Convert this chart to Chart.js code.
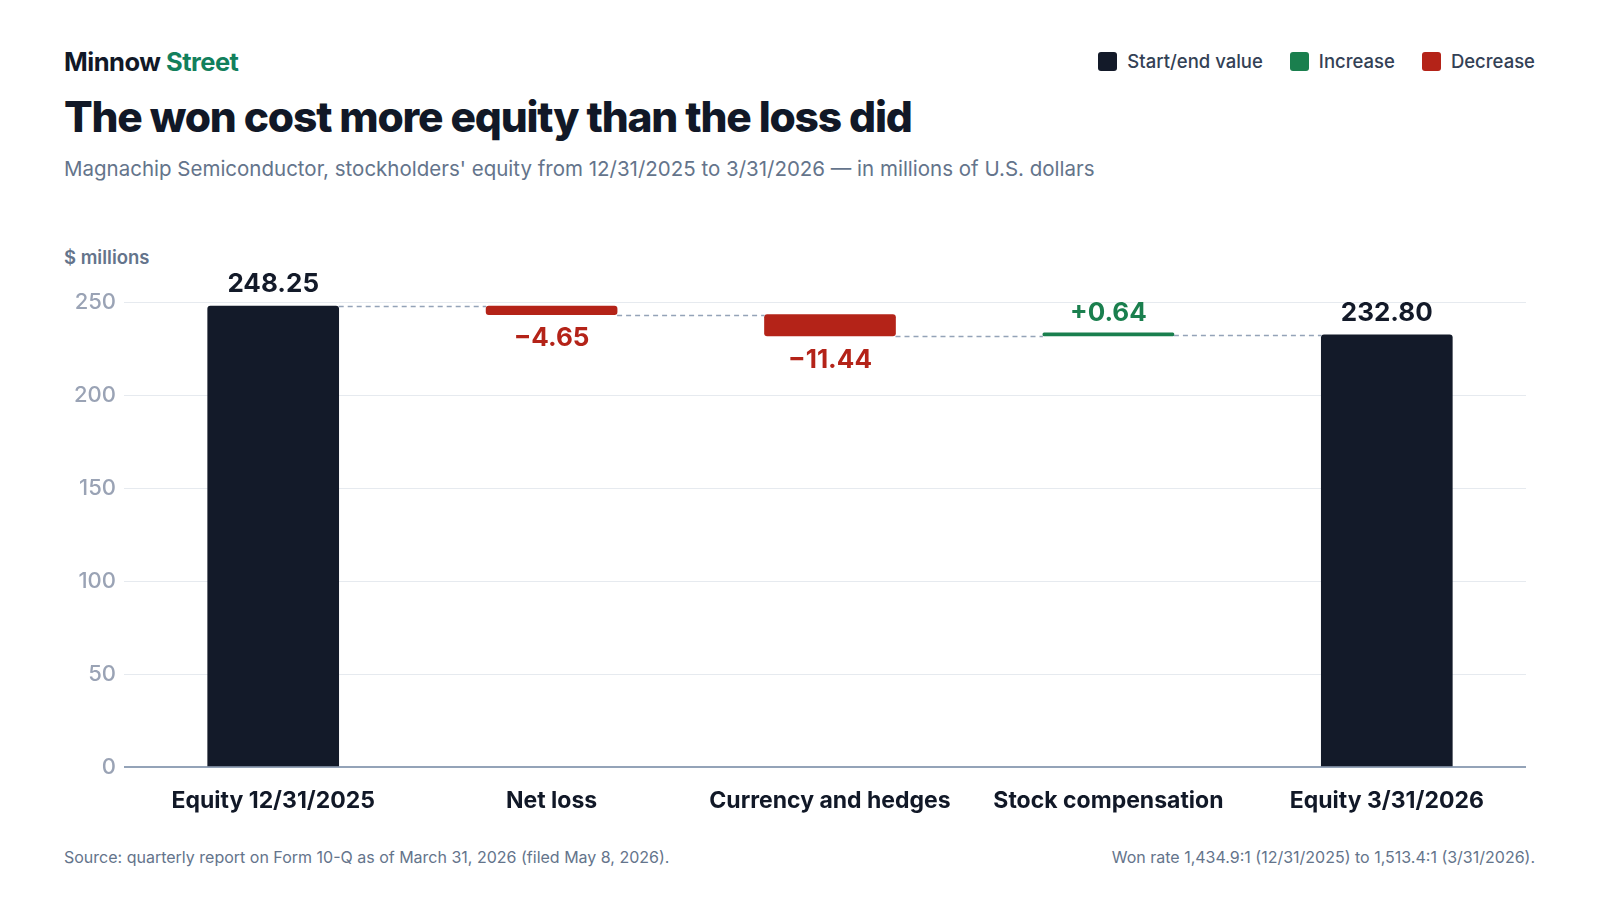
<!DOCTYPE html>
<html>
<head>
<meta charset="utf-8">
<script src="https://cdn.jsdelivr.net/npm/chart.js@4.4.1/dist/chart.umd.min.js"></script>
<style>
  body { margin: 0; background: #fff; font-family: Inter, "Noto Sans", sans-serif; }
  #page { position: relative; width: 1600px; height: 900px; }
  .brand { position: absolute; left: 64px; top: 46px; font-size: 25.5px; font-weight: 700; color: #111827; letter-spacing: -0.5px; }
  .brand span { color: #12805c; }
  h1 { position: absolute; left: 64px; top: 91px; margin: 0; font-size: 42.5px; font-weight: 800; color: #111827; letter-spacing: -1.2px; }
  .sub { position: absolute; left: 64px; top: 156px; font-size: 20.5px; color: #64748b; }
  .legend { position: absolute; right: 65px; top: 50px; display: flex; gap: 27px; font-size: 18.5px; font-weight: 500; color: #334155; }
  .legend div { display: flex; align-items: center; gap: 10px; }
  .legend i { display: inline-block; width: 19px; height: 19px; border-radius: 3px; }
  .unit { position: absolute; left: 64px; top: 246px; font-size: 18.5px; font-weight: 600; color: #64748b; }
  .foot { position: absolute; top: 847px; font-size: 16px; color: #64748b; }
  #wrap { position: absolute; left: 64px; top: 250px; width: 1470px; height: 577px; }
</style>
</head>
<body>
<div id="page">
  <div class="brand">Minnow <span>Street</span></div>
  <div class="legend">
    <div><i style="background:#131a29"></i>Start/end value</div>
    <div><i style="background:#1a7f4e"></i>Increase</div>
    <div><i style="background:#b42318"></i>Decrease</div>
  </div>
  <h1>The won cost more equity than the loss did</h1>
  <div class="sub">Magnachip Semiconductor, stockholders' equity from 12/31/2025 to 3/31/2026 — in millions of U.S. dollars</div>
  <div class="unit">$ millions</div>
  <div id="wrap"><canvas id="chart"></canvas></div>
  <div class="foot" style="left:64px">Source: quarterly report on Form 10-Q as of March 31, 2026 (filed May 8, 2026).</div>
  <div class="foot" style="right:65px">Won rate 1,434.9:1 (12/31/2025) to 1,513.4:1 (3/31/2026).</div>
</div>
<script>
// waterfall steps, $ millions
const categories = ['Equity 12/31/2025', 'Net loss', 'Currency and hedges', 'Stock compensation', 'Equity 3/31/2026'];
const kinds = ['total', 'change', 'change', 'change', 'total'];
const amounts = [248.25, -4.65, -11.44, 0.64, 232.80];
const valueLabels = ['248.25', '\u22124.65', '\u221211.44', '+0.64', '232.80'];
const yTicks = [0, 50, 100, 150, 200, 250];

const DARK = '#131a29', GREEN = '#1a7f4e', RED = '#b42318';

// build floating bars from the running total
let running = 0;
const ranges = [];
const colors = [];
amounts.forEach((v, i) => {
  if (kinds[i] === 'total') {
    running = v;
    ranges.push([0, v]);
    colors.push(DARK);
  } else {
    const from = running;
    running = +(running + v).toFixed(2);
    ranges.push([Math.min(from, running), Math.max(from, running)]);
    colors.push(v < 0 ? RED : GREEN);
  }
});

// dashed connectors + value labels
const waterfallExtras = {
  id: 'waterfallExtras',
  afterDatasetsDraw(chart) {
    const ctx = chart.ctx;
    const meta = chart.getDatasetMeta(0);
    const y = chart.scales.y;
    ctx.save();
    // connectors
    ctx.strokeStyle = '#94a3b8';
    ctx.lineWidth = 1.5;
    ctx.setLineDash([5, 4]);
    for (let i = 0; i < meta.data.length - 1; i++) {
      const a = meta.data[i], b = meta.data[i + 1];
      const level = kinds[i] === 'total' ? ranges[i][1] : (amounts[i] < 0 ? ranges[i][0] : ranges[i][1]);
      const py = Math.round(y.getPixelForValue(level)) + 0.5;
      ctx.beginPath();
      ctx.moveTo(a.x + a.width / 2, py);
      ctx.lineTo(b.x - b.width / 2, py);
      ctx.stroke();
    }
    ctx.setLineDash([]);
    // labels
    ctx.textAlign = 'center';
    ctx.textBaseline = 'middle';
    ctx.font = '700 26px Inter, sans-serif';
    meta.data.forEach((bar, i) => {
      const top = y.getPixelForValue(ranges[i][1]);
      const bottom = y.getPixelForValue(ranges[i][0]);
      ctx.fillStyle = colors[i];
      if (kinds[i] === 'change' && amounts[i] < 0) {
        ctx.fillText(valueLabels[i], bar.x, bottom + 24);
      } else {
        ctx.fillText(valueLabels[i], bar.x, top - 22);
      }
    });
    ctx.restore();
  }
};

new Chart(document.getElementById('chart'), {
  type: 'bar',
  data: {
    labels: categories,
    datasets: [{
      data: ranges,
      backgroundColor: colors,
      borderRadius: 3,
      borderSkipped: (c) => kinds[c.dataIndex] === 'total' ? 'start' : false,
      barThickness: 131,
      minBarLength: 3
    }]
  },
  options: {
    responsive: true,
    maintainAspectRatio: false,
    animation: false,
    layout: { padding: { right: 8 } },
    plugins: { legend: { display: false }, tooltip: { enabled: false } },
    scales: {
      x: {
        grid: { display: false, drawTicks: false },
        border: { display: false },
        ticks: { color: '#111827', font: { family: 'Inter', size: 23, weight: '700' }, padding: 20 },
        afterFit: (s) => { s.height = 60; }
      },
      y: {
        min: 0,
        max: 267,
        afterBuildTicks: (s) => { s.ticks = yTicks.map(v => ({ value: v })); },
        afterFit: (s) => { s.width = 70; },
        border: { display: false },
        grid: {
          color: (c) => c.tick && c.tick.value === 0 ? '#94a3b8' : '#e6eaef',
          lineWidth: (c) => c.tick && c.tick.value === 0 ? 2 : 1,
          tickLength: 10
        },
        ticks: { color: '#9aa3b5', font: { family: 'Inter', size: 22, weight: '500' }, padding: 8 }
      }
    }
  },
  plugins: [waterfallExtras]
});
</script>
</body>
</html>
